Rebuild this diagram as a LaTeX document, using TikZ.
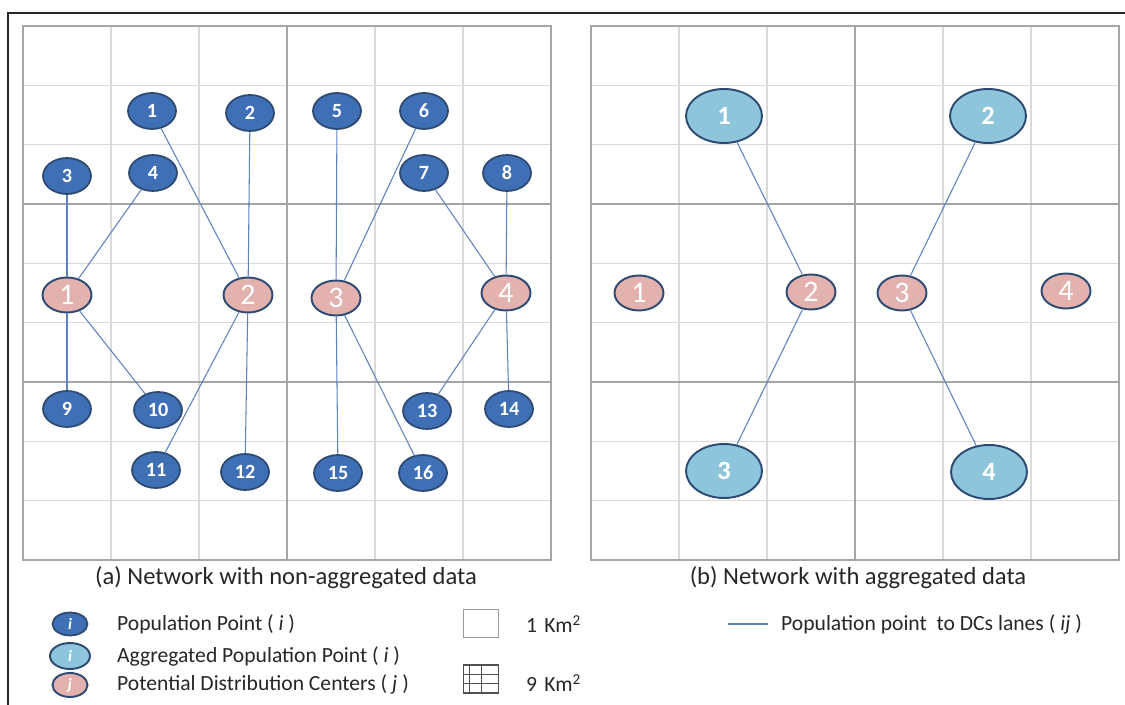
\documentclass[tikz,border=0pt]{standalone}
\usepackage{fontspec}
\setmainfont{Carlito}
\usetikzlibrary{shapes.geometric}
\definecolor{popcol}{HTML}{3F6FB4}
\definecolor{aggcol}{HTML}{8DC6DB}
\definecolor{dccol}{HTML}{E3B1AE}
\definecolor{rimcol}{HTML}{2D4A73}
\definecolor{lanecol}{HTML}{5D82C2}
\definecolor{finecol}{HTML}{DADADA}
\definecolor{blockcol}{HTML}{A5A5A5}
\definecolor{inkcol}{HTML}{262626}

\begin{document}
\begin{tikzpicture}[
  x=0.02cm, y=-0.02cm,
  pop/.style={ellipse, draw=rimcol, line width=1pt, fill=popcol,
              minimum width=9.6mm, minimum height=7.2mm, inner sep=0pt,
              text=white, font=\fontsize{11.5}{11.5}\selectfont\bfseries},
  agg/.style={ellipse, draw=rimcol, line width=1.1pt, fill=aggcol,
              minimum width=15.2mm, minimum height=10.8mm, inner sep=0pt,
              text=white, font=\fontsize{15}{15}\selectfont\bfseries},
  dc/.style={ellipse, draw=rimcol, line width=1.1pt, fill=dccol,
             minimum width=9.8mm, minimum height=7mm, inner sep=0pt,
             text=white, font=\fontsize{17}{17}\selectfont},
  lane/.style={draw=lanecol, line width=0.6pt},
  fine/.style={draw=finecol, line width=0.8pt},
  block/.style={draw=blockcol, line width=1.4pt},
  caption/.style={font=\fontsize{14}{16}\selectfont, text=inkcol},
  legtext/.style={font=\fontsize{12.3}{14}\selectfont, anchor=west, text=inkcol},
]
\useasboundingbox (0,0) rectangle (1125,705);

% ---------------------------------------------------------------- frame
\draw[line width=1pt, inkcol] (8,705) -- (8,13) -- (1125,13);

% ---------------------------------------------------------------- grids
\foreach \gx in {23,591}{
  \foreach \i in {1,2,4,5}
    \draw[fine] ({\gx+88*\i},26) -- ({\gx+88*\i},560);
  \foreach \j in {1,2,4,5,7,8}
    \draw[fine] (\gx,{26+59.33*\j}) -- ({\gx+528},{26+59.33*\j});
  \draw[block] (\gx,26) rectangle ({\gx+528},560);
  \draw[block] ({\gx+264},26) -- ({\gx+264},560);
  \draw[block] (\gx,204) -- ({\gx+528},204);
  \draw[block] (\gx,382) -- ({\gx+528},382);
}

% ------------------------------------------------- (a) population points
\node[pop] (a1)  at (152,111) {1};
\node[pop] (a2)  at (250,113) {2};
\node[pop] (a3)  at (67,176)  {3};
\node[pop] (a4)  at (153,173) {4};
\node[pop] (a5)  at (337,111) {5};
\node[pop] (a6)  at (424,111) {6};
\node[pop] (a7)  at (424,173) {7};
\node[pop] (a8)  at (507,173) {8};
\node[pop] (a9)  at (67,409)  {9};
\node[pop] (a10) at (158,410) {10};
\node[pop] (a11) at (156,470) {11};
\node[pop] (a12) at (245,472) {12};
\node[pop] (a13) at (427,411) {13};
\node[pop] (a14) at (509,409) {14};
\node[pop] (a15) at (338,473) {15};
\node[pop] (a16) at (423,473) {16};

% ------------------------------------------------- (a) distribution centers
\node[dc] (ad1) at (67,295)  {1};
\node[dc] (ad2) at (248,295) {2};
\node[dc] (ad3) at (336,298) {3};
\node[dc] (ad4) at (506,293) {4};

% ------------------------------------------------- (b) aggregated points
\node[agg] (b1) at (724,116) {1};
\node[agg] (b2) at (988,116) {2};
\node[agg] (b3) at (724,471) {3};
\node[agg] (b4) at (989,472) {4};

% ------------------------------------------------- (b) distribution centers
\node[dc] (bd1) at (639,293)  {1};
\node[dc] (bd2) at (811,292)  {2};
\node[dc] (bd3) at (902,293)  {3};
\node[dc] (bd4) at (1066,291) {4};

% ------------------------------------------------------------- lanes
\draw[lane] (a3)  -- (ad1);
\draw[lane] (a4)  -- (ad1);
\draw[lane] (a9)  -- (ad1);
\draw[lane] (a10) -- (ad1);
\draw[lane] (a1)  -- (ad2);
\draw[lane] (a2)  -- (ad2);
\draw[lane] (a11) -- (ad2);
\draw[lane] (a12) -- (ad2);
\draw[lane] (a5)  -- (ad3);
\draw[lane] (a6)  -- (ad3);
\draw[lane] (a15) -- (ad3);
\draw[lane] (a16) -- (ad3);
\draw[lane] (a7)  -- (ad4);
\draw[lane] (a8)  -- (ad4);
\draw[lane] (a13) -- (ad4);
\draw[lane] (a14) -- (ad4);

\draw[lane] (b1) -- (bd2);
\draw[lane] (b3) -- (bd2);
\draw[lane] (b2) -- (bd3);
\draw[lane] (b4) -- (bd3);

% ------------------------------------------------------------- captions
\node[caption] (capa) at (286,578) {(a) Network with non-aggregated data};
\node[caption] (capb) at (858,578) {(b) Network with aggregated data};

% ------------------------------------------------------------- legend
\node[pop, minimum width=7mm, minimum height=4.6mm,
      font=\fontsize{9}{9}\selectfont\bfseries\itshape] (keypop) at (70,624) {i};
\node[agg, minimum width=8mm, minimum height=5.2mm,
      font=\fontsize{9}{9}\selectfont\bfseries\itshape] (keyagg) at (70,656) {i};
\node[dc, minimum width=7mm, minimum height=4.8mm,
      font=\fontsize{9}{9}\selectfont\bfseries\itshape] (keydc) at (70,685) {j};

\node[legtext] (txtpop) at (111,624) {Population Point ( \textit{i} )};
\node[legtext] (txtagg) at (111,656) {Aggregated Population Point ( \textit{i} )};
\node[legtext] (txtdc)  at (111,684) {Potential Distribution Centers ( \textit{j} )};

\node[draw=finecol!70!black, line width=0.5pt, minimum width=7mm,
      minimum height=5.6mm, inner sep=0pt] (onekm) at (481,623) {};
\node[legtext] (txtone) at (520,624) {1\,\,Km\textsuperscript{2}};

\node[draw=inkcol!80, line width=0.6pt, minimum width=7mm,
      minimum height=5.6mm, inner sep=0pt] (ninekm) at (481,679) {};
\draw[inkcol!80, line width=0.5pt] (469.3,665) -- (469.3,693)
  (481,665) -- (481,693) (463.5,674.3) -- (498.5,674.3)
  (463.5,683.7) -- (498.5,683.7);
\node[legtext] (txtnine) at (520,683) {9\,\,Km\textsuperscript{2}};

\coordinate (lanea) at (728,624);
\coordinate (laneb) at (768,624);
\draw[lane, line width=1pt] (lanea) -- (laneb);
\node[legtext] (txtlane) at (775,624) {Population point \ to DCs lanes ( \textit{ij} )};

\end{tikzpicture}
\end{document}
